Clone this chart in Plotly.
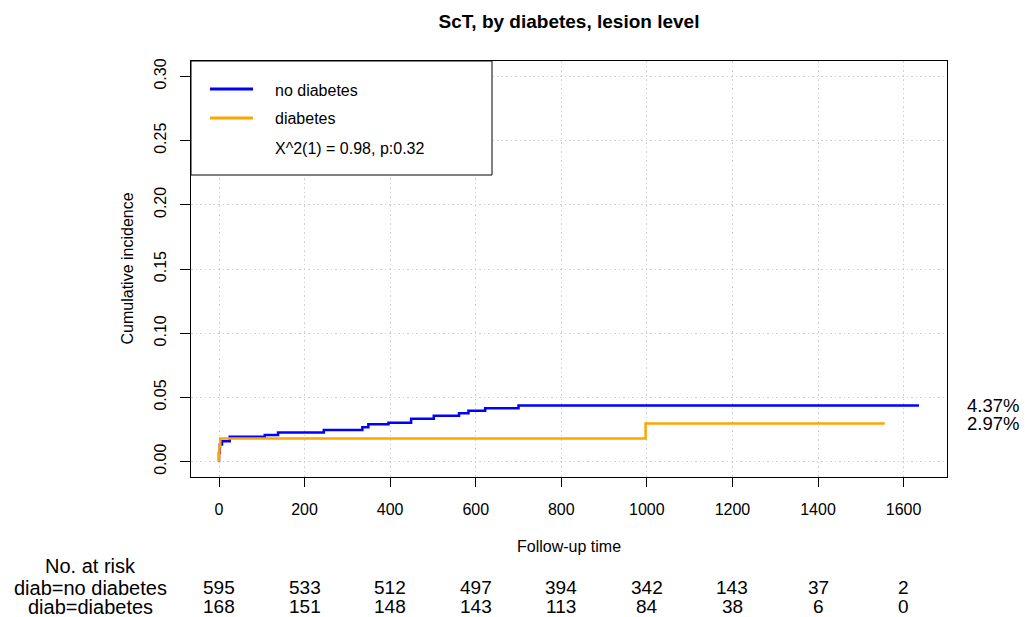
import plotly.graph_objects as go

# ---------------- data ----------------
groups = ["no diabetes", "diabetes"]
risk_labels = ["diab=no diabetes", "diab=diabetes"]
colors = ["#0000FF", "#FFA500"]

blue_t = [0, 0, 2, 7, 25, 107, 138, 245, 335, 349, 396, 449, 502, 561, 583, 622, 700, 1636]
blue_v = [0, 0.0067, 0.0134, 0.0158, 0.0193, 0.0207, 0.0227, 0.0246, 0.0267, 0.0291,
          0.0303, 0.0334, 0.0357, 0.0376, 0.0396, 0.0415, 0.0437, 0.0437]

orange_t = [0, 0, 1, 3, 997, 1556]
orange_v = [0, 0.006, 0.012, 0.0179, 0.0297, 0.0297]

risk_times = [0, 200, 400, 600, 800, 1000, 1200, 1400, 1600]
risk_no_diab = [595, 533, 512, 497, 394, 342, 143, 37, 2]
risk_diab = [168, 151, 148, 143, 113, 84, 38, 6, 0]

y_ticks = [0, 0.05, 0.10, 0.15, 0.20, 0.25, 0.30]
x_ticks = [0, 200, 400, 600, 800, 1000, 1200, 1400, 1600]

title = "ScT, by diabetes, lesion level"
test_text = "X^2(1) = 0.98, p:0.32"

# ---------------- layout geometry (pixels) ----------------
W, H = 1025, 617
L, R, T, B = 191, 947, 61, 477
FONT = "Liberation Sans, Arial, Helvetica, sans-serif"
GRID_DASH = "1.5px,3px"


def px_x(p):
    return (p - L) / (R - L)


def px_y(p):
    return (B - p) / (B - T)


fig = go.Figure()
series = [(blue_t, blue_v), (orange_t, orange_v)]
for (t, v), name, c in zip(series, groups, colors):
    fig.add_trace(go.Scatter(x=t, y=v, mode="lines", line=dict(color=c, width=2.5, shape="hv"),
                             name=name, showlegend=False, hoverinfo="x+y"))

xmax = max(blue_t[-1], orange_t[-1])
pad = 0.04 * xmax
ymax = 0.30

fig.update_layout(
    width=W, height=H,
    margin=dict(l=L, r=W - R, t=T, b=H - B, pad=0),
    paper_bgcolor="white", plot_bgcolor="white",
    font=dict(family=FONT, size=16, color="black"),
    showlegend=False,
    title=dict(text="<b>" + title + "</b>", x=0.5, xref="paper", xanchor="center",
               y=1 - 21.5 / H, yref="container", yanchor="middle",
               font=dict(family=FONT, size=19, color="black")),
    xaxis=dict(range=[-pad, xmax + pad], tickvals=x_ticks, ticktext=[str(x) for x in x_ticks],
               showgrid=True, gridcolor="#CFCFCF", griddash=GRID_DASH, gridwidth=1,
               zeroline=False, showline=True, mirror=True, linecolor="black", linewidth=1,
               ticks="outside", ticklen=9, tickcolor="black", tickwidth=1,
               tickfont=dict(family=FONT, size=16, color="black"), ticklabelstandoff=9),
    yaxis=dict(range=[-0.04 * ymax, ymax * 1.04], tickvals=y_ticks,
               ticktext=["%.2f" % v for v in y_ticks], tickangle=-90,
               showgrid=True, gridcolor="#CFCFCF", griddash=GRID_DASH, gridwidth=1,
               zeroline=False, showline=True, mirror=True, linecolor="black", linewidth=1,
               ticks="outside", ticklen=10, tickcolor="black", tickwidth=1,
               tickfont=dict(family=FONT, size=16, color="black"), ticklabelstandoff=8),
)

annotations = []
# axis titles
annotations.append(dict(text="Follow-up time", xref="paper", yref="paper", x=0.5, y=px_y(546.7),
                        xanchor="center", yanchor="middle", showarrow=False,
                        font=dict(family=FONT, size=16)))
annotations.append(dict(text="Cumulative incidence", xref="paper", yref="paper", x=px_x(126.5), y=0.5,
                        xanchor="center", yanchor="middle", textangle=-90, showarrow=False,
                        font=dict(family=FONT, size=16)))

# final percentages
for (t, v) in series:
    annotations.append(dict(text="%.2f%%" % (v[-1] * 100), xref="paper", yref="y",
                            x=px_x(965), y=v[-1], xanchor="left", yanchor="middle",
                            showarrow=False, font=dict(family=FONT, size=18.5)))

# risk table
label_x = px_x(90)
annotations.append(dict(text="No. at risk", xref="paper", yref="paper", x=label_x, y=px_y(565.5),
                        xanchor="center", yanchor="middle", showarrow=False,
                        font=dict(family=FONT, size=20)))
for lab, counts, yc in zip(risk_labels, [risk_no_diab, risk_diab], [587.5, 606.5]):
    annotations.append(dict(text=lab, xref="paper", yref="paper", x=label_x, y=px_y(yc),
                            xanchor="center", yanchor="middle", showarrow=False,
                            font=dict(family=FONT, size=20)))
    for tt, n in zip(risk_times, counts):
        annotations.append(dict(text=str(n), xref="x", yref="paper", x=tt, y=px_y(yc),
                                xanchor="center", yanchor="middle", showarrow=False,
                                font=dict(family=FONT, size=19)))

# legend (manual, R-style box)
shapes = [dict(type="rect", xref="paper", yref="paper", x0=px_x(191), x1=px_x(492),
               y0=px_y(175), y1=px_y(61), line=dict(color="black", width=1),
               fillcolor="white", layer="above")]
for c, yc in zip(colors, [89, 118]):
    shapes.append(dict(type="line", xref="paper", yref="paper", x0=px_x(210), x1=px_x(253),
                       y0=px_y(yc), y1=px_y(yc), line=dict(color=c, width=3), layer="above"))
for txt, yc in zip(groups + [test_text], [90.5, 119, 148]):
    annotations.append(dict(text=txt, xref="paper", yref="paper", x=px_x(272.5), y=px_y(yc),
                            xanchor="left", yanchor="middle", showarrow=False,
                            font=dict(family=FONT, size=16)))

fig.update_layout(annotations=annotations, shapes=shapes)
fig.write_html("out.html", config={"displayModeBar": False},
               post_script="document.body.style.margin='0px';document.body.style.overflow='hidden';")
